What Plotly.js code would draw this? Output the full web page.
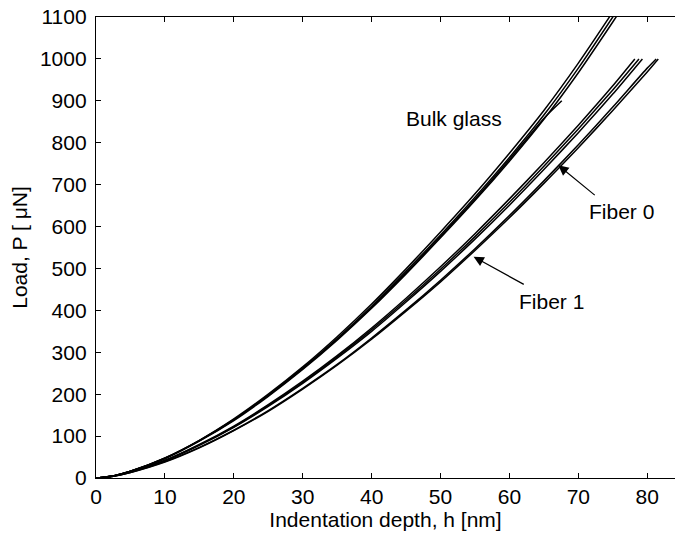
<!DOCTYPE html>
<html>
<head>
<meta charset="utf-8">
<script src="https://cdn.plot.ly/plotly-3.0.1.min.js"></script>
<style>html,body{margin:0;padding:0;overflow:hidden;background:#fff}</style>
</head>
<body>
<div id="chart" style="width:675px;height:536px"></div>
<script>
// Indentation depth h [nm] grid and load P [µN] values
const hGrid   = [0,2.5,5,10,15,20,25,30,35,40,45,50,55,60,65,70,75];

// Bulk glass replicates
const bulkH1 = hGrid.concat([77]);
const bulkP1 = [0,5,16,47,89,139,197,262,333,410,493,580,670,765,866,978,1100,1150];
const bulkH2 = hGrid.concat([77]);
const bulkP2 = [0,5,16,48,90,141,200,265,337,415,499,587,678,775,877,990,1112,1162];
const bulkH3 = hGrid.concat([77]);
const bulkP3 = [0,5,16,46,88,137,195,259,329,405,487,573,662,756,856,967,1088,1138];
const bulkH4 = [0,2.5,5,10,15,20,25,30,35,40,45,50,55,60,65,67.6];
const bulkP4 = [0,5,16,47,89,139,197,261,331,407,489,576,665,760,858,900];

// Fiber 0 replicates
const fib0H1 = hGrid.concat([78.2]);
const fib0P1 = [0,5,15,42,80,124,175,231,292,358,429,504,583,666,752,842,936,1000];
const fib0H2 = hGrid.concat([78.8]);
const fib0P2 = [0,5,15,42,79,122,173,228,289,354,424,498,576,658,744,833,926,1000];
const fib0H3 = hGrid.concat([79.3]);
const fib0P3 = [0,4,14,41,78,121,171,226,286,350,420,493,570,651,736,824,916,1000];

// Fiber 1 replicates
const fib1H1 = hGrid.concat([80,81.3]);
const fib1P1 = [0,4,13,39,73,114,161,214,271,334,401,472,547,626,709,795,885,978,1000];
const fib1H2 = hGrid.concat([80,81.6]);
const fib1P2 = [0,4,13,38,72,113,159,212,269,331,398,468,543,621,703,788,877,969,1000];

// Tick values
const xTicks = [0,10,20,30,40,50,60,70,80];
const yTicks = [0,100,200,300,400,500,600,700,800,900,1000,1100];

// Labels
const labels = [
  {text:'Bulk glass', h:52.0, p:858},
  {text:'Fiber 0', h:76.3, p:636},
  {text:'Fiber 1', h:66.1, p:421}
];
const arrows = [
  {tipH:67.1, tipP:746, tailH:72.6, tailP:672},
  {tipH:54.8, tipP:528, tailH:62.3, tailP:460}
];

const series = [
  [bulkH1,bulkP1],[bulkH2,bulkP2],[bulkH3,bulkP3],[bulkH4,bulkP4],
  [fib0H1,fib0P1],[fib0H2,fib0P2],[fib0H3,fib0P3],
  [fib1H1,fib1P1],[fib1H2,fib1P2]
];

const traces = series.map(s => ({
  x: s[0], y: s[1], type:'scatter', mode:'lines',
  line:{color:'#000', width:1.5, shape:'spline', smoothing:0.6},
  hoverinfo:'skip', showlegend:false
}));

const font = {family:'Liberation Sans, Arial, sans-serif', size:21, color:'#000'};

const annotations = labels.map(l => ({
  x:l.h, y:l.p, xref:'x', yref:'y', text:l.text, showarrow:false,
  font:font, xanchor:'center', yanchor:'middle'
})).concat(arrows.map(a => ({
  x:a.tipH, y:a.tipP, xref:'x', yref:'y', ax:a.tailH, ay:a.tailP,
  axref:'x', ayref:'y', text:'', showarrow:true,
  arrowhead:2, arrowsize:1.7, arrowwidth:1.2, arrowcolor:'#000'
})));

const layout = {
  width:675, height:536,
  margin:{l:96, r:0, t:17, b:58},
  paper_bgcolor:'#fff', plot_bgcolor:'#fff',
  font:font,
  showlegend:false,
  xaxis:{
    range:[0,84.03], tickvals:xTicks, ticktext:xTicks.map(String),
    ticks:'inside', ticklen:5, tickcolor:'#000', tickwidth:1,
    showline:true, linecolor:'#000', linewidth:1.2, mirror:'ticks',
    showgrid:false, zeroline:false, tickfont:font,
    title:{text:'Indentation depth, h [nm]', font:font, standoff:2}
  },
  yaxis:{
    range:[0,1100], tickvals:yTicks, ticktext:yTicks.map(String),
    ticks:'inside', ticklen:5, tickcolor:'#000', tickwidth:1,
    showline:true, linecolor:'#000', linewidth:1.2, mirror:false,
    showgrid:false, zeroline:false, tickfont:font, ticklabelstandoff:4,
    title:{text:'Load, P [ μN]', font:font, standoff:6}
  },
  annotations:annotations
};

Plotly.newPlot('chart', traces, layout, {staticPlot:true, displayModeBar:false});
</script>
</body>
</html>
